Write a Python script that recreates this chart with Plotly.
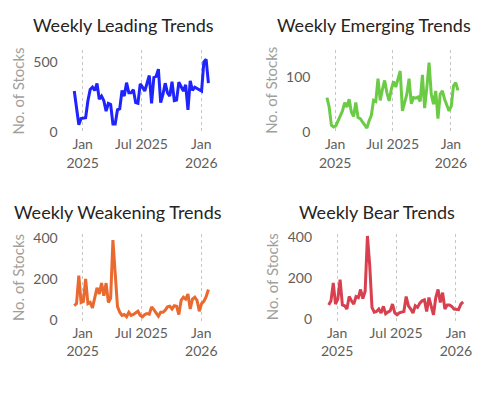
import pandas as pd
import plotly.graph_objects as go

dates = pd.date_range("2024-12-06", periods=60, freq="7D")

leading = [296, 180, 55, 100, 100, 105, 227, 308, 324, 300,
           350, 238, 260, 227, 153, 208, 200, 60, 60, 162,
           170, 300, 260, 356, 283, 283, 306, 213, 208, 347,
           324, 296, 352, 407, 208, 393, 400, 453, 213, 272,
           352, 283, 260, 363, 227, 231, 359, 329, 296, 340,
           162, 368, 300, 324, 315, 300, 296, 505, 523, 352]

emerging = [63, 46, 13, 10, 12, 21, 31, 39, 54, 46,
            60, 37, 29, 54, 27, 25, 19, 13, 8, 21,
            31, 58, 56, 97, 58, 78, 94, 72, 57, 78,
            92, 82, 95, 111, 39, 57, 69, 97, 52, 63,
            62, 64, 56, 104, 44, 81, 126, 69, 51, 75,
            25, 69, 75, 60, 48, 39, 47, 84, 90, 76]

weakening = [71, 81, 218, 87, 92, 202, 81, 87, 60, 103,
             158, 128, 181, 119, 181, 87, 107, 391, 218, 68,
             39, 24, 28, 17, 39, 24, 28, 36, 44, 24,
             17, 28, 33, 30, 65, 52, 33, 20, 39, 39,
             49, 65, 68, 55, 71, 68, 28, 97, 112, 103,
             128, 55, 103, 112, 97, 44, 81, 92, 115, 150]

bear = [70, 90, 177, 74, 98, 193, 70, 66, 50, 111,
        90, 74, 111, 106, 145, 101, 137, 406, 264, 58,
        35, 38, 50, 31, 63, 27, 35, 42, 74, 31,
        22, 31, 35, 38, 111, 66, 50, 31, 66, 58,
        79, 90, 95, 38, 106, 58, 22, 106, 145, 82,
        130, 50, 70, 70, 63, 50, 50, 47, 74, 85]

titles = ["Weekly Leading Trends", "Weekly Emerging Trends",
          "Weekly Weakening Trends", "Weekly Bear Trends"]
colors = ["#1F24FF", "#6CCB45", "#E9692F", "#D8404F"]
series = [leading, emerging, weakening, bear]
ytick_vals = [[0, 500], [0, 100], [0, 200, 400], [0, 200, 400]]
xtick_vals = ["2025-01-01", "2025-07-01", "2026-01-01"]
xtick_text = ["Jan<br>2025", "Jul 2025", "Jan<br>2026"]

OFF = 8  # page body margin
W, H = 496 - OFF, 393 - OFF
# pixel boxes in window coordinates: (left, right, top, bottom)
boxes = [(67.8, 212.4, 46, 133), (325.3, 466.5, 46, 133),
         (67.8, 212.4, 236, 327), (327.0, 471.9, 235, 327)]
yranges = [[-14, 590], [-3.5, 149], [-12.8, 418], [-17.5, 418]]
title_pos = [(122, 20), (377, 20), (116, 213), (380, 213)]
ytitle_pos = [(14, 88), (272, 88), (14, 280), (273, 280)]


def px(x):
    return (x - OFF) / W


def py(y):
    return 1 - (y - OFF) / H


FONT = "Segoe UI, Lato, sans-serif"
fig = go.Figure()
annotations = []
for i in range(4):
    ax = "" if i == 0 else str(i + 1)
    l, r, t, b = boxes[i]
    fig.add_trace(go.Scatter(x=dates, y=series[i], mode="lines",
                             line=dict(color=colors[i], width=3),
                             xaxis="x" + ax, yaxis="y" + ax,
                             showlegend=False))
    fig.layout["xaxis" + ax] = dict(
        domain=[px(l), px(r)], anchor="y" + ax,
        range=["2024-11-25", "2026-02-05"], type="date",
        tickvals=xtick_vals, ticktext=xtick_text,
        showgrid=True, gridcolor="#C8C6C4", griddash="dot", gridwidth=1,
        zeroline=False, showline=False, ticks="",
        tickfont=dict(family=FONT, size=14, color="#605E5C"),
        fixedrange=True)
    fig.layout["yaxis" + ax] = dict(
        domain=[py(b), py(t)], anchor="x" + ax,
        range=yranges[i], tickvals=ytick_vals[i],
        showgrid=False, zeroline=False, showline=False, ticks="",
        ticklabelstandoff=12,
        tickfont=dict(family=FONT, size=14, color="#605E5C"),
        fixedrange=True)
    tx, ty = title_pos[i]
    annotations.append(dict(text=titles[i], x=px(tx), y=py(ty),
                            xref="paper", yref="paper", showarrow=False,
                            xanchor="center", yanchor="middle",
                            font=dict(family=FONT, size=18, color="#252423")))
    yx, yy = ytitle_pos[i]
    annotations.append(dict(text="No. of Stocks", x=px(yx), y=py(yy),
                            xref="paper", yref="paper", showarrow=False,
                            textangle=-90, xanchor="center", yanchor="middle",
                            font=dict(family=FONT, size=15, color="#A19F9D")))

fig.update_layout(width=W, height=H, margin=dict(l=0, r=0, t=0, b=0),
                  paper_bgcolor="white", plot_bgcolor="white",
                  annotations=annotations)
fig.write_html("out.html")
